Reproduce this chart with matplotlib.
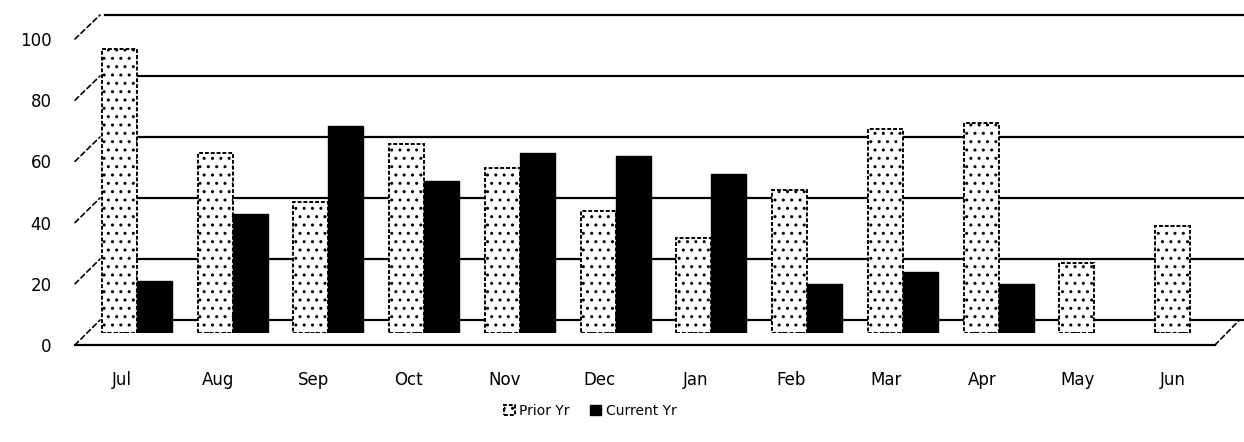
import numpy as np
import matplotlib
matplotlib.use("Agg")
import matplotlib.pyplot as plt
from matplotlib.patches import ConnectionPatch

months = ["Jul", "Aug", "Sep", "Oct", "Nov", "Dec", "Jan", "Feb", "Mar", "Apr", "May", "Jun"]
prior_yr = [93, 59, 43, 62, 54, 40, 31, 47, 67, 69, 23, 35]
current_yr = [17, 39, 68, 50, 59, 58, 52, 16, 20, 16, np.nan, np.nan]
y_ticks = [0, 20, 40, 60, 80, 100]

W, H = 1244, 442
fig = plt.figure(figsize=(W / 100, H / 100), dpi=100)


def box(x0, x1, y_top, y_bot):
    # pixel box (from top-left) -> figure fraction rect
    return [x0 / W, 1 - y_bot / H, (x1 - x0) / W, (y_bot - y_top) / H]


# back wall (gridlines)
back = fig.add_axes(box(100, W, 15, 320))
back.set_xlim(0, 1)
back.set_ylim(0, 100)
for v in y_ticks:
    back.axhline(v, color="black", lw=1.6, xmin=0.004, clip_on=False)
back.axis("off")

# front plane (tick labels, floor edge)
front = fig.add_axes(box(75, 1215, 39, 345))
front.set_xlim(-(122 - 75) / 95.5, 11 + (1215 - 1173) / 95.5)
front.set_ylim(0, 100)
front.patch.set_alpha(0)
for s in front.spines.values():
    s.set_visible(False)
front.axhline(0, color="black", lw=1.6, clip_on=False)
front.set_yticks(y_ticks)
front.set_xticks(range(len(months)))
front.set_xticklabels(months)
front.tick_params(length=0, labelsize=12)
front.tick_params(axis="y", pad=17)
front.tick_params(axis="x", pad=19)

# left wall edges and right floor edge
for v in y_ticks:
    con = ConnectionPatch(xyA=(0, v), coordsA=front.get_yaxis_transform(),
                          xyB=(0, v), coordsB=back.get_yaxis_transform(),
                          color="black", lw=1.2, ls=(0, (3, 2)))
    fig.add_artist(con)
con = ConnectionPatch(xyA=(1, 0), coordsA=front.transAxes,
                      xyB=(0.996, 0), coordsB=back.transAxes,
                      color="black", lw=1.2, ls=(0, (3, 2)))
fig.add_artist(con)

# bars at mid depth
bars = fig.add_axes(box(100, W, 28, 333))
bars.set_xlim(-(137 - 100) / 95.7, 11 + (W - 1190) / 95.7)
bars.set_ylim(0, 100)
bars.axis("off")
x = np.arange(len(months))
w = 0.366
bars.bar(x - w / 2, prior_yr, w, color="white", edgecolor="black",
         hatch="..", lw=1.4, ls=(0, (2, 1)), label="Prior Yr")
bars.bar(x + w / 2, current_yr, w, color="black", edgecolor="black",
         lw=1.0, label="Current Yr")

fig.legend(loc="center", bbox_to_anchor=(590 / W, 1 - 411 / H), ncol=2,
           frameon=False, fontsize=10, handlelength=0.8, handleheight=0.8,
           handletextpad=0.3, columnspacing=1.5)

fig.savefig("out.png", dpi=100)
